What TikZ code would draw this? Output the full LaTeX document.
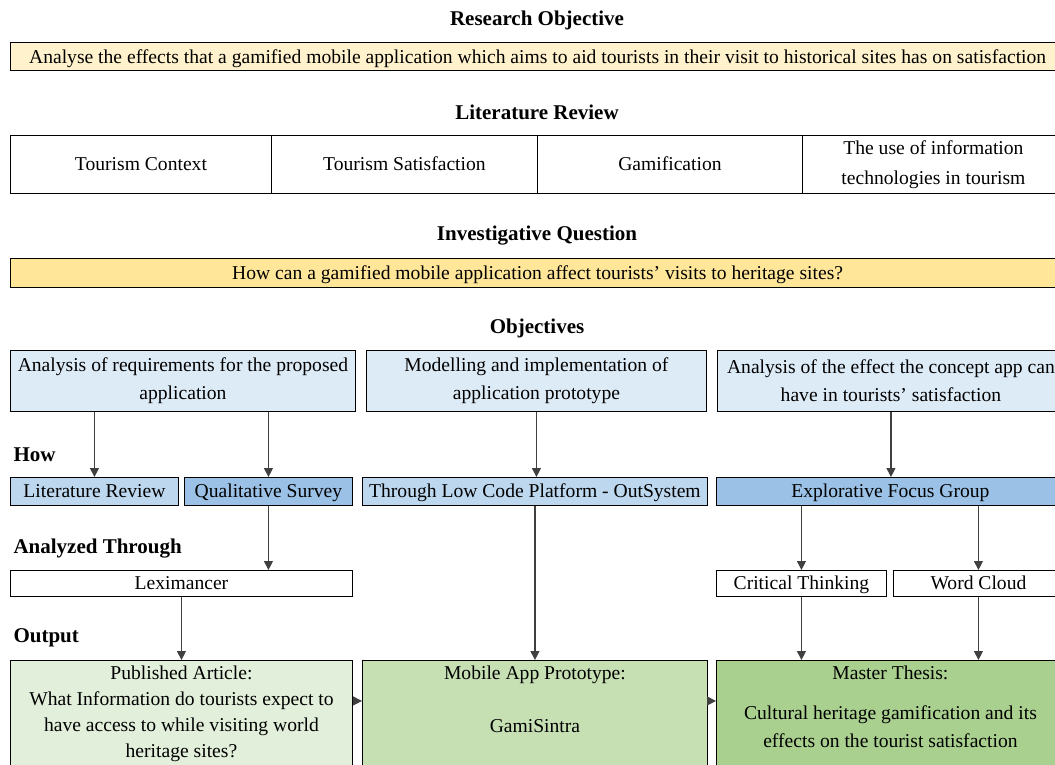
\documentclass[tikz,border=0pt]{standalone}
\usepackage{fontspec}
\setmainfont{Liberation Serif}
\usepackage{tikz}
\usetikzlibrary{arrows.meta,positioning}
\definecolor{cream}{HTML}{FFF2CC}
\definecolor{gold}{HTML}{FFE699}
\definecolor{bluepale}{HTML}{DDEBF7}
\definecolor{bluemid}{HTML}{BDD7EE}
\definecolor{bluedeep}{HTML}{9BC2E6}
\definecolor{greenpale}{HTML}{E2EFDA}
\definecolor{greenmid}{HTML}{C6E0B4}
\definecolor{greendeep}{HTML}{A9D08E}
\definecolor{arrowgrey}{HTML}{404040}
\newcommand\bodyfont{\fontsize{19.6}{28}\selectfont}
\newcommand\headfont{\fontsize{21}{24}\selectfont\bfseries}
\tikzset{
  box/.style={draw=black,line width=0.9pt,anchor=north west,inner sep=0pt,align=center,font=\bodyfont},
  cell/.style={box,text height=16pt,text depth=3pt},
  boxtext/.style={inner sep=0pt,align=center,font=\bodyfont},
  head/.style={font=\headfont},
  side/.style={font=\headfont,anchor=west},
  arr/.style={-{Triangle[length=9pt,width=9pt]},line width=1.1pt,color=arrowgrey}
}

\begin{document}
\begin{tikzpicture}[x=1pt,y=-1pt]
  \useasboundingbox (0,0) rectangle (1055,765);
  \clip (0,0) rectangle (1055,765);
  % research objective
  \node[head] (rohead) at (537,20) {Research Objective};
  \node[cell,fill=cream,minimum width=1054pt,minimum height=28pt,line width=1.2pt] (ro) at (10,42)
    {Analyse the effects that a gamified mobile application which aims to aid tourists in their visit to historical sites has on satisfaction};
  % literature review
  \node[head] (lrhead) at (537,112) {Literature Review};
  \node[cell,minimum width=261pt,minimum height=58pt] (lit1) at (10,135) {Tourism Context};
  \node[cell,minimum width=266pt,minimum height=58pt] (lit2) at (271,135) {Tourism Satisfaction};
  \node[cell,minimum width=265pt,minimum height=58pt] (lit3) at (537,135) {Gamification};
  \node[box,minimum width=262pt,minimum height=58pt] (lit4) at (802,135)
    {The use of information\\[2pt]technologies in tourism};
  % investigative question
  \node[head] (iqhead) at (537,236) {Investigative Question};
  \node[cell,fill=gold,minimum width=1054pt,minimum height=29pt,line width=1.2pt] (iq) at (10,258)
    {How can a gamified mobile application affect tourists' visits to heritage sites?};
  % objectives
  \node[head] (objhead) at (537,328) {Objectives};
  \node[box,fill=bluepale,minimum width=345pt,minimum height=61pt] (obj1) at (10,350)
    {Analysis of requirements for the proposed\\application};
  \node[box,fill=bluepale,minimum width=340pt,minimum height=61pt] (obj2) at (366,350)
    {Modelling and implementation of\\application prototype};
  \node[box,fill=bluepale,minimum width=347pt,minimum height=61pt] (obj3) at (717,350)
    {Analysis of the effect the concept app can\\have in tourists' satisfaction};
  % how
  \node[side] (howlabel) at (10,455) {How};
  \node[cell,fill=bluemid,minimum width=168pt,minimum height=28pt] (litrev) at (10,477) {Literature Review};
  \node[cell,fill=bluedeep,minimum width=168pt,minimum height=28pt] (survey) at (184,477) {Qualitative Survey};
  \node[cell,fill=bluemid,minimum width=345pt,minimum height=28pt] (lowcode) at (362,477)
    {Through Low Code Platform - OutSystem};
  \node[cell,fill=bluedeep,minimum width=348pt,minimum height=28pt] (focus) at (716,477)
    {Explorative Focus Group};
  % analyzed through
  \node[side] (anlabel) at (10,549) {Analyzed Through};
  \node[cell,minimum width=342pt,minimum height=26pt] (lexi) at (10,570) {Leximancer};
  \node[cell,minimum width=170pt,minimum height=26pt] (critical) at (716,570) {Critical Thinking};
  \node[cell,minimum width=170pt,minimum height=26pt] (cloud) at (893,570) {Word Cloud};
  % output
  \node[side] (outlabel) at (10,638) {Output};
  \node[box,fill=greenpale,minimum width=342pt,minimum height=115pt] (article) at (10,660) {};
  \node[box,fill=greenmid,minimum width=345pt,minimum height=115pt] (app) at (362,660) {};
  \node[box,fill=greendeep,minimum width=348pt,minimum height=115pt] (thesis) at (716,660) {};
  \node[boxtext,anchor=north,yshift=-6pt] (articletxt) at (article.north)
    {Published Article:\\[-2pt]What Information do tourists expect to\\[-2pt]have access to while visiting world\\[-2pt]heritage sites?};
  \node[boxtext,anchor=north,yshift=-6pt] (apptxt) at (app.north)
    {Mobile App Prototype:\\[25pt]GamiSintra};
  \node[boxtext,anchor=north,yshift=-6pt] (thesistxt) at (thesis.north)
    {Master Thesis:\\[12pt]Cultural heritage gamification and its\\effects on the tourist satisfaction};
  % connectors
  \draw[arr] (obj1.south -| litrev.north) -- (litrev.north);
  \draw[arr] (obj1.south -| survey.north) -- (survey.north);
  \draw[arr] (obj2.south) -- (obj2.south |- lowcode.north);
  \draw[arr] (obj3.south) -- (obj3.south |- focus.north);
  \draw[arr] (survey.south) -- (survey.south |- lexi.north);
  \draw[arr] (focus.south -| critical.north) -- (critical.north);
  \draw[arr] (focus.south -| cloud.north) -- (cloud.north);
  \draw[arr] (lexi.south) -- (lexi.south |- article.north);
  \draw[arr] (lowcode.south) -- (lowcode.south |- app.north);
  \draw[arr] (critical.south) -- (critical.south |- thesis.north);
  \draw[arr] (cloud.south) -- (cloud.south |- thesis.north);
  \draw[arr] ([yshift=17pt]article.east) -- ([yshift=17pt]app.west);
  \draw[arr] ([yshift=17pt]app.east) -- ([yshift=17pt]thesis.west);
\end{tikzpicture}
\end{document}
